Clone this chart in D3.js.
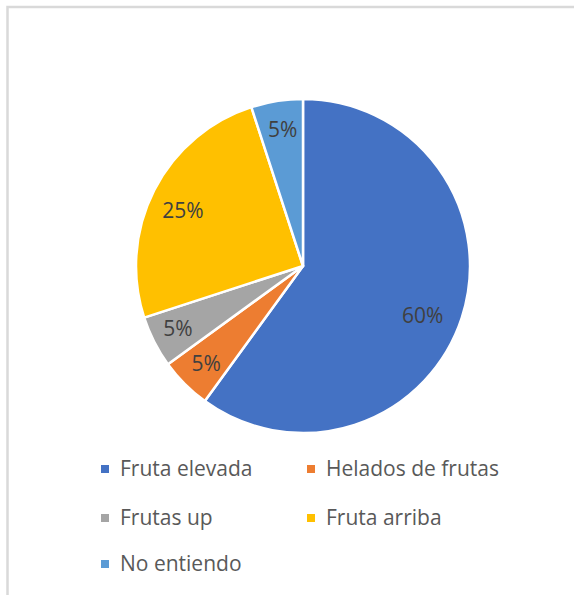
<!DOCTYPE html>
<html>
<head>
<meta charset="utf-8">
<script src="https://cdn.jsdelivr.net/npm/d3@7"></script>
<style>
  body { margin: 0; background: #fff; }
  svg { display: block; font-family: "Open Sans", "Liberation Sans", sans-serif; }
</style>
</head>
<body>
<svg id="chart"></svg>
<script>
const categories = ["Fruta elevada", "Helados de frutas", "Frutas up", "Fruta arriba", "No entiendo"];
const values = [60, 5, 5, 25, 5];
const labels = ["60%", "5%", "5%", "25%", "5%"];
const colors = ["#4472C4", "#ED7D31", "#A5A5A5", "#FFC000", "#5B9BD5"];

const width = 574;
const height = 599;
const svg = d3.select("#chart")
    .attr("width", width)
    .attr("height", height);

// chart frame (only left and top edges are in view)
svg.append("path")
    .attr("d", `M7.5,${height - 4} V7 H${width}`)
    .attr("fill", "none")
    .attr("stroke", "#d9d9d9")
    .attr("stroke-width", 2.5);

const cx = 303, cy = 266, radius = 167;

const pie = d3.pie().sort(null).value(d => d);
const arc = d3.arc().innerRadius(0).outerRadius(radius);
const labelArc = d3.arc().innerRadius(137).outerRadius(137);
// small nudges so the big-slice labels sit where Excel puts them
const labelNudge = [[-4, 9], [0, 1], [-3, 0], [2, 7], [1, -1]];

const g = svg.append("g").attr("transform", `translate(${cx},${cy})`);
const arcs = pie(values);

g.selectAll("path")
    .data(arcs)
    .enter()
    .append("path")
    .attr("d", arc)
    .attr("fill", (d, i) => colors[i])
    .attr("stroke", "#fff")
    .attr("stroke-width", 2.5)
    .attr("stroke-linejoin", "round");

g.selectAll("text")
    .data(arcs)
    .enter()
    .append("text")
    .attr("transform", (d, i) => {
        const c = (i === 0 ? d3.arc().innerRadius(130).outerRadius(130) : labelArc).centroid(d);
        return `translate(${c[0] + labelNudge[i][0]},${c[1] + labelNudge[i][1]})`;
    })
    .attr("text-anchor", "middle")
    .attr("dy", "0.35em")
    .attr("fill", "#404040")
    .style("font-size", "21px")
    .text((d, i) => labels[i]);

// legend
const legendPos = [
    [101, 469], [307, 469],
    [101, 518], [307, 518],
    [101, 564]
];
const item = svg.append("g").selectAll("g")
    .data(categories)
    .enter()
    .append("g")
    .attr("transform", (d, i) => `translate(${legendPos[i][0]},${legendPos[i][1]})`);

item.append("rect")
    .attr("x", 0)
    .attr("y", -4)
    .attr("width", 8)
    .attr("height", 8)
    .attr("fill", (d, i) => colors[i]);

item.append("text")
    .attr("x", 19)
    .attr("dy", "0.35em")
    .attr("fill", "#595959")
    .style("font-size", "21px")
    .text(d => d);
</script>
</body>
</html>
